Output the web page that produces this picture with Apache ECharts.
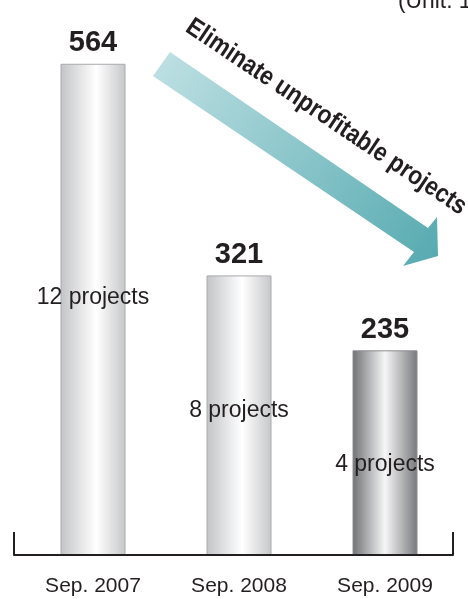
<!DOCTYPE html>
<html><head><meta charset="utf-8">
<script src="https://cdn.jsdelivr.net/npm/echarts@6/dist/echarts.min.js"></script>
<style>html,body{margin:0;padding:0;background:#fff}#c{width:468px;height:599px}</style>
</head><body><div id="c"></div>
<script>
const categories = ['Sep. 2007', 'Sep. 2008', 'Sep. 2009'];
const values = [564, 321, 235];
const projectCounts = [12, 8, 4];
const unitText = '(Unit: 100 million yen)';
const arrowText = 'Eliminate unprofitable projects';

const NARROW = '"Liberation Sans Narrow", "Liberation Sans", Arial, sans-serif';
const INK = '#231f20';

function lightGrad() {
  return { type: 'linear', x: 0, y: 0, x2: 1, y2: 0, colorStops: [
    { offset: 0, color: '#c3c4c7' }, { offset: 0.55, color: '#ffffff' }, { offset: 1, color: '#c6c7ca' } ] };
}
function darkGrad() {
  return { type: 'linear', x: 0, y: 0, x2: 1, y2: 0, colorStops: [
    { offset: 0, color: '#707175' }, { offset: 0.5, color: '#f6f6f6' }, { offset: 1, color: '#77787c' } ] };
}
const labelOffsets = [[0, -12], [0, -5], [0, 12]];

const barData = values.map((v, i) => ({
  value: v,
  itemStyle: { color: i === values.length - 1 ? darkGrad() : lightGrad(), borderColor: i === values.length - 1 ? '#8d8e91' : '#a9aaad', borderWidth: 1 },
  label: { offset: labelOffsets[i] }
}));

const chart = echarts.init(document.getElementById('c'), null, { renderer: 'canvas' });
chart.setOption({
  animation: false,
  backgroundColor: '#ffffff',
  grid: [
    { left: 20, right: 10, top: 15, bottom: 44 },
    { left: 14, right: 15, top: 500, bottom: 44 }
  ],
  xAxis: [
    { type: 'category', gridIndex: 0, data: categories,
      axisLine: { show: false }, axisTick: { show: false },
      axisLabel: { interval: 0, color: INK, fontFamily: NARROW, fontSize: 21, margin: 21 } },
    { type: 'value', gridIndex: 1, min: 0, max: 1, interval: 1, z: 10,
      axisLine: { show: true, lineStyle: { color: INK, width: 2 } },
      axisTick: { show: true, inside: true, length: 23, lineStyle: { color: INK, width: 2 } },
      axisLabel: { show: false }, splitLine: { show: false } }
  ],
  yAxis: [
    { type: 'value', gridIndex: 0, min: 0, max: 620, show: false, splitLine: { show: false } },
    { type: 'value', gridIndex: 1, show: false, splitLine: { show: false } }
  ],
  series: [
    { type: 'bar', xAxisIndex: 0, yAxisIndex: 0, barWidth: 65, data: barData,
      label: { show: true, position: 'inside', color: INK, fontFamily: NARROW, fontSize: 23,
        formatter: p => projectCounts[p.dataIndex] + ' projects' } },
    { type: 'bar', xAxisIndex: 0, yAxisIndex: 0, barWidth: 65, barGap: '-100%', data: values,
      itemStyle: { color: 'rgba(0,0,0,0)' }, silent: true,
      label: { show: true, position: 'top', distance: 6, color: INK, fontFamily: NARROW, fontWeight: 'bold', fontSize: 29,
        formatter: '{c}' } }
  ],
  graphic: [
    { type: 'polygon', z: 1,
      shape: { points: [[170, 52], [428, 228], [437, 217], [438, 256], [403, 266], [414, 252], [153, 76]] },
      style: { fill: { type: 'linear', x: 0, y: 0, x2: 1, y2: 1, colorStops: [
        { offset: 0, color: '#c0e1e4' }, { offset: 1, color: '#55aab0' } ] } } },
    { type: 'text', z: 5, x: 326, y: 117, rotation: -0.59, scaleX: 0.87,
      style: { text: arrowText, font: 'bold 26px ' + NARROW, fill: INK, align: 'center', verticalAlign: 'middle', textAlign: 'center', textVerticalAlign: 'middle' } },
    { type: 'text', z: 5, x: 398, y: 1, scaleX: 0.95,
      style: { text: unitText, font: '24px ' + NARROW, fill: INK, align: 'left', verticalAlign: 'middle', textAlign: 'left', textVerticalAlign: 'middle' } }
  ]
});
</script>
</body></html>
